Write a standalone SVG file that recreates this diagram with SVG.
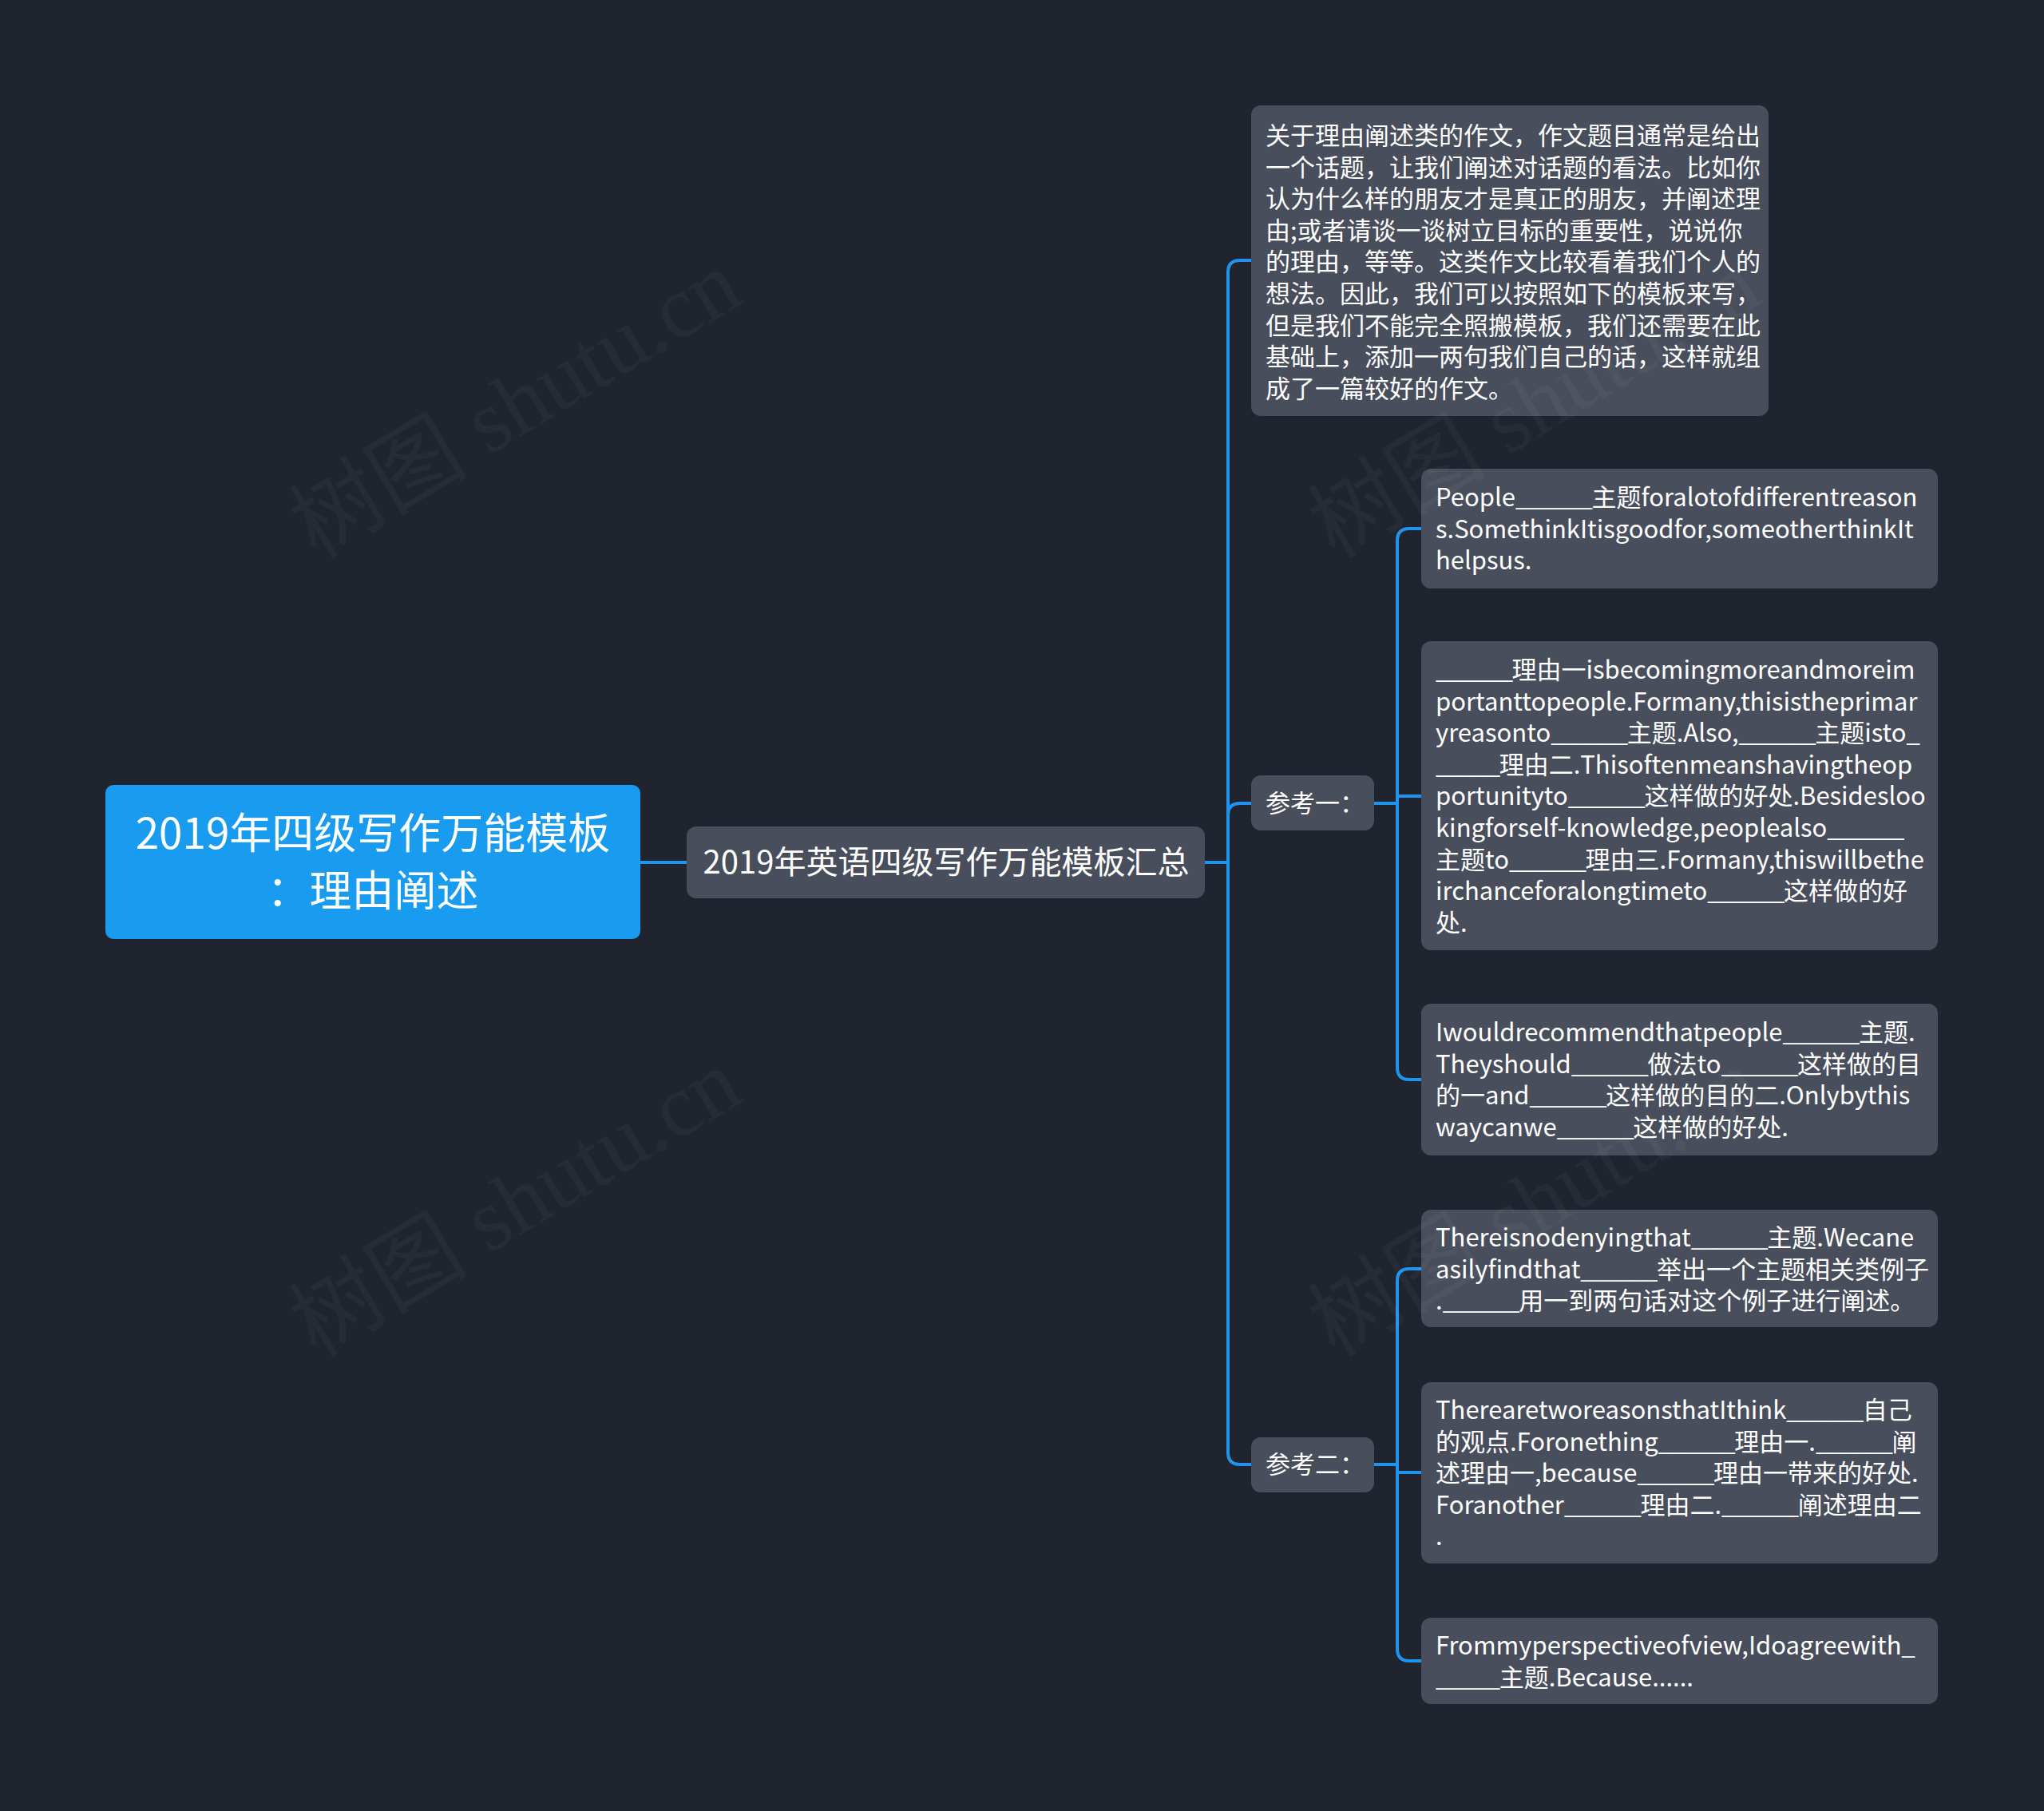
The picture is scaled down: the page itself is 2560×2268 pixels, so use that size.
<svg xmlns="http://www.w3.org/2000/svg" width="2560" height="2268" viewBox="0 0 2560 2268">
<defs>
<style>
.bg{fill:#20242f}
.box{fill:#494e5c}
.root{fill:#199cf0}
.t{font-family:"Noto Sans CJK SC","Noto Sans",sans-serif;font-size:31px;fill:#ffffff}
.u{letter-spacing:-1.4px}
.l1{font-family:"Noto Sans CJK SC","Noto Sans",sans-serif;font-size:40px;fill:#ffffff}
.rt{font-family:"Noto Sans CJK SC","Noto Sans",sans-serif;font-size:53px;fill:#ffffff}
.c{fill:none;stroke:#1f94ec;stroke-width:4;stroke-linecap:round;stroke-linejoin:round}
.wm{font-family:"Liberation Serif","Noto Sans CJK SC",serif;font-size:112px;fill:#ffffff;fill-opacity:0.035}
</style>
</defs>
<rect class="bg" x="0" y="0" width="2560" height="2268"/>
<g id="connectors">
<path class="c" d="M802 1080 H860"/>
<path class="c" d="M1509 1080 H1538 V341 Q1538 326 1553 326 H1567"/>
<path class="c" d="M1538 1080 V1021 Q1538 1006 1553 1006 H1567"/>
<path class="c" d="M1538 1080 V1819 Q1538 1834 1553 1834 H1567"/>
<path class="c" d="M1721 1006 H1750 V677 Q1750 662 1765 662 H1780"/>
<path class="c" d="M1750 997 H1780"/>
<path class="c" d="M1750 1006 V1337 Q1750 1352 1765 1352 H1780"/>
<path class="c" d="M1721 1834 H1750 V1604 Q1750 1589 1765 1589 H1780"/>
<path class="c" d="M1750 1834 V1844 H1780"/>
<path class="c" d="M1750 1834 V2065 Q1750 2080 1765 2080 H1780"/>
</g>
<g id="root">
<rect class="root" x="132" y="983" width="670" height="193" rx="10"/>
<text class="rt" text-anchor="middle"><tspan x="467" y="1063">2019年四级写作万能模板</tspan><tspan x="467" y="1135">：理由阐述</tspan></text>
</g>
<g id="summary">
<rect class="box" x="860" y="1035" width="649" height="90" rx="12"/>
<text class="l1" x="1185" y="1094" text-anchor="middle">2019年英语四级写作万能模板汇总</text>
</g>
<g id="intro">
<rect class="box" x="1567" y="132" width="648" height="389" rx="12"/>
<text class="t"><tspan x="1585" y="181">关于理由阐述类的作文，作文题目通常是给出</tspan><tspan x="1585" dy="39.6">一个话题，让我们阐述对话题的看法。比如你</tspan><tspan x="1585" dy="39.6">认为什么样的朋友才是真正的朋友，并阐述理</tspan><tspan x="1585" dy="39.6">由;或者请谈一谈树立目标的重要性，说说你</tspan><tspan x="1585" dy="39.6">的理由，等等。这类作文比较看着我们个人的</tspan><tspan x="1585" dy="39.6">想法。因此，我们可以按照如下的模板来写，</tspan><tspan x="1585" dy="39.6">但是我们不能完全照搬模板，我们还需要在此</tspan><tspan x="1585" dy="39.6">基础上，添加一两句我们自己的话，这样就组</tspan><tspan x="1585" dy="39.6">成了一篇较好的作文。</tspan></text>
</g>
<g id="ref1">
<rect class="box" x="1567" y="971" width="154" height="69" rx="12"/>
<text class="t" x="1585" y="1017">参考一：</text>
</g>
<g id="ref2">
<rect class="box" x="1567" y="1800" width="154" height="69" rx="12"/>
<text class="t" x="1585" y="1845">参考二：</text>
</g>
<g id="a1">
<rect class="box" x="1780" y="587" width="647" height="150" rx="12"/>
<text class="t"><tspan x="1798" y="634">People<tspan class="u">______</tspan>主题foralotofdifferentreason</tspan><tspan x="1798" dy="39.6">s.SomethinkItisgoodfor,someotherthinkIt</tspan><tspan x="1798" dy="39.6">helpsus.</tspan></text>
</g>
<g id="a2">
<rect class="box" x="1780" y="803" width="647" height="387" rx="12"/>
<text class="t"><tspan x="1798" y="850"><tspan class="u">______</tspan>理由一isbecomingmoreandmoreim</tspan><tspan x="1798" dy="39.6">portanttopeople.Formany,thisistheprimar</tspan><tspan x="1798" dy="39.6">yreasonto<tspan class="u">______</tspan>主题.Also,<tspan class="u">______</tspan>主题isto<tspan class="u">_</tspan></tspan><tspan x="1798" dy="39.6"><tspan class="u">_____</tspan>理由二.Thisoftenmeanshavingtheop</tspan><tspan x="1798" dy="39.6">portunityto<tspan class="u">______</tspan>这样做的好处.Besidesloo</tspan><tspan x="1798" dy="39.6">kingforself-knowledge,peoplealso<tspan class="u">______</tspan></tspan><tspan x="1798" dy="39.6">主题to<tspan class="u">______</tspan>理由三.Formany,thiswillbethe</tspan><tspan x="1798" dy="39.6">irchanceforalongtimeto<tspan class="u">______</tspan>这样做的好</tspan><tspan x="1798" dy="39.6">处.</tspan></text>
</g>
<g id="a3">
<rect class="box" x="1780" y="1257" width="647" height="190" rx="12"/>
<text class="t"><tspan x="1798" y="1304">Iwouldrecommendthatpeople<tspan class="u">______</tspan>主题.</tspan><tspan x="1798" dy="39.6">Theyshould<tspan class="u">______</tspan>做法to<tspan class="u">______</tspan>这样做的目</tspan><tspan x="1798" dy="39.6">的一and<tspan class="u">______</tspan>这样做的目的二.Onlybythis</tspan><tspan x="1798" dy="39.6">waycanwe<tspan class="u">______</tspan>这样做的好处.</tspan></text>
</g>
<g id="b1">
<rect class="box" x="1780" y="1515" width="647" height="147" rx="12"/>
<text class="t"><tspan x="1798" y="1561">Thereisnodenyingthat<tspan class="u">______</tspan>主题.Wecane</tspan><tspan x="1798" dy="39.6">asilyfindthat<tspan class="u">______</tspan>举出一个主题相关类例子</tspan><tspan x="1798" dy="39.6">.<tspan class="u">______</tspan>用一到两句话对这个例子进行阐述。</tspan></text>
</g>
<g id="b2">
<rect class="box" x="1780" y="1731" width="647" height="227" rx="12"/>
<text class="t"><tspan x="1798" y="1777">TherearetworeasonsthatIthink<tspan class="u">______</tspan>自己</tspan><tspan x="1798" dy="39.6">的观点.Foronething<tspan class="u">______</tspan>理由一.<tspan class="u">______</tspan>阐</tspan><tspan x="1798" dy="39.6">述理由一,because<tspan class="u">______</tspan>理由一带来的好处.</tspan><tspan x="1798" dy="39.6">Foranother<tspan class="u">______</tspan>理由二.<tspan class="u">______</tspan>阐述理由二</tspan><tspan x="1798" dy="39.6">.</tspan></text>
</g>
<g id="b3">
<rect class="box" x="1780" y="2026" width="647" height="108" rx="12"/>
<text class="t"><tspan x="1798" y="2072">Frommyperspectiveofview,Idoagreewith<tspan class="u">_</tspan></tspan><tspan x="1798" dy="39.6"><tspan class="u">_____</tspan>主题.Because......</tspan></text>
</g>
<g id="watermark">
<text class="wm" text-anchor="middle" transform="translate(665 539) rotate(-31)">树图 shutu.cn</text>
<text class="wm" text-anchor="middle" transform="translate(665 1539) rotate(-31)">树图 shutu.cn</text>
<text class="wm" text-anchor="middle" transform="translate(1941 539) rotate(-31)">树图 shutu.cn</text>
<text class="wm" text-anchor="middle" transform="translate(1941 1539) rotate(-31)">树图 shutu.cn</text>
</g>
</svg>
